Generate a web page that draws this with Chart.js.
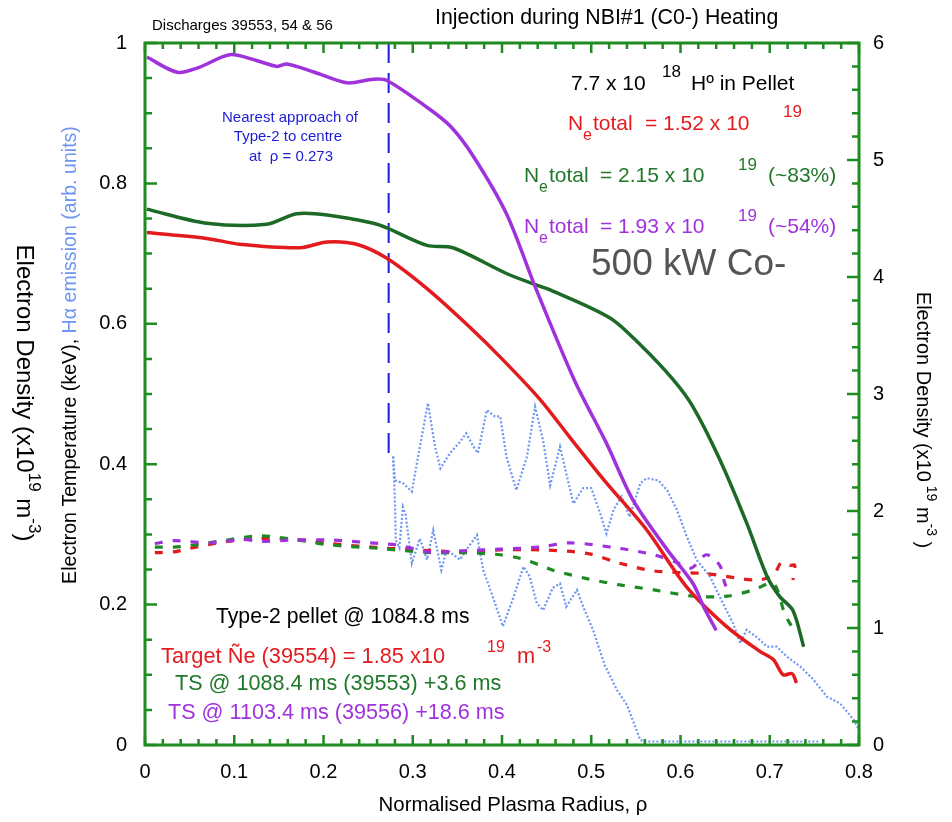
<!DOCTYPE html>
<html>
<head>
<meta charset="utf-8">
<script src="https://cdn.jsdelivr.net/npm/chart.js@4.4.1/dist/chart.umd.min.js"></script>
<style>
  html, body { margin: 0; padding: 0; background: #fff; }
  canvas { display: block; }
</style>
</head>
<body>
<canvas id="chart" width="952" height="822"></canvas>
<script>
// axis ticks
const xTicks  = [0, 0.1, 0.2, 0.3, 0.4, 0.5, 0.6, 0.7, 0.8];
const yTicks  = [0, 0.2, 0.4, 0.6, 0.8, 1];
const y2Ticks = [0, 1, 2, 3, 4, 5, 6];

// electron density, solid lines (right axis, x10^19 m^-3)
const rhoNeTarget = [0.002, 0.069, 0.106, 0.174, 0.204, 0.237, 0.271, 0.316, 0.364, 0.40, 0.443, 0.476, 0.517, 0.562, 0.607, 0.652, 0.689, 0.704, 0.715, 0.725, 0.730];
const neTarget    = [4.38, 4.33, 4.28, 4.25, 4.30, 4.28, 4.16, 3.90, 3.57, 3.30, 2.95, 2.63, 2.24, 1.84, 1.35, 1.01, 0.80, 0.73, 0.60, 0.61, 0.53];
const rhoNe3553   = [0.002, 0.069, 0.136, 0.170, 0.204, 0.256, 0.271, 0.316, 0.345, 0.405, 0.439, 0.454, 0.521, 0.555, 0.592, 0.614, 0.644, 0.674, 0.697, 0.711, 0.726, 0.738];
const ne3553      = [4.58, 4.46, 4.45, 4.54, 4.53, 4.46, 4.42, 4.27, 4.25, 4.03, 3.93, 3.89, 3.65, 3.42, 3.12, 2.89, 2.44, 1.90, 1.44, 1.27, 1.15, 0.84];
const rhoNe3556   = [0.002, 0.036, 0.06, 0.095, 0.125, 0.148, 0.159, 0.19, 0.226, 0.256, 0.271, 0.316, 0.342, 0.368, 0.405, 0.437, 0.481, 0.517, 0.547, 0.585, 0.614, 0.626, 0.640];
const ne3556      = [5.88, 5.75, 5.79, 5.90, 5.85, 5.80, 5.82, 5.75, 5.66, 5.69, 5.68, 5.45, 5.29, 5.03, 4.54, 3.92, 3.12, 2.58, 2.09, 1.67, 1.38, 1.18, 0.98];

// electron temperature, dashed lines (left axis, keV)
const rhoTeTarget = [0.011, 0.032, 0.05, 0.092, 0.129, 0.166, 0.207, 0.263, 0.319, 0.36, 0.398, 0.443, 0.495, 0.532, 0.570, 0.629, 0.685, 0.704, 0.713, 0.723, 0.728, 0.726];
const teTarget    = [0.274, 0.275, 0.280, 0.290, 0.294, 0.293, 0.287, 0.281, 0.277, 0.275, 0.278, 0.278, 0.273, 0.259, 0.248, 0.244, 0.235, 0.242, 0.260, 0.256, 0.256, 0.235];
const rhoTe3553   = [0.011, 0.032, 0.05, 0.092, 0.129, 0.166, 0.207, 0.263, 0.319, 0.36, 0.398, 0.42, 0.443, 0.457, 0.495, 0.532, 0.570, 0.614, 0.652, 0.682, 0.704, 0.717, 0.724];
const te3553      = [0.282, 0.282, 0.284, 0.292, 0.298, 0.293, 0.285, 0.280, 0.274, 0.274, 0.271, 0.266, 0.256, 0.249, 0.237, 0.228, 0.221, 0.212, 0.212, 0.221, 0.230, 0.186, 0.170];
const rhoTe3556   = [0.011, 0.032, 0.073, 0.110, 0.129, 0.166, 0.207, 0.263, 0.282, 0.319, 0.36, 0.398, 0.443, 0.476, 0.532, 0.570, 0.596, 0.612, 0.629, 0.644, 0.649, 0.654];
const te3556      = [0.287, 0.291, 0.288, 0.293, 0.290, 0.292, 0.292, 0.287, 0.285, 0.275, 0.277, 0.279, 0.282, 0.288, 0.280, 0.271, 0.260, 0.252, 0.271, 0.256, 0.233, 0.216];

// H-alpha emission, dotted (left axis, arb. units) - outward and return legs
const rhoHaUpper = [0.278, 0.280, 0.289, 0.299, 0.306, 0.317, 0.325, 0.331, 0.342, 0.353, 0.360, 0.368, 0.373, 0.383, 0.392, 0.398, 0.405, 0.416, 0.428, 0.437, 0.446, 0.454, 0.465, 0.472, 0.480, 0.491, 0.500, 0.510, 0.517, 0.525, 0.534, 0.543, 0.555, 0.562, 0.575, 0.585, 0.596, 0.607, 0.618, 0.633, 0.644, 0.659, 0.667, 0.674, 0.685, 0.697, 0.708, 0.719, 0.734, 0.749, 0.764, 0.779, 0.794, 0.799];
const haUpper    = [0.411, 0.377, 0.373, 0.361, 0.411, 0.487, 0.425, 0.394, 0.416, 0.432, 0.444, 0.425, 0.416, 0.477, 0.468, 0.468, 0.411, 0.363, 0.411, 0.482, 0.434, 0.370, 0.425, 0.387, 0.344, 0.366, 0.366, 0.330, 0.301, 0.335, 0.354, 0.325, 0.373, 0.380, 0.377, 0.363, 0.335, 0.297, 0.264, 0.240, 0.211, 0.173, 0.145, 0.164, 0.154, 0.140, 0.140, 0.126, 0.112, 0.093, 0.069, 0.059, 0.036, 0.024];
const rhoHaLower = [0.278, 0.280, 0.281, 0.285, 0.289, 0.292, 0.299, 0.308, 0.316, 0.323, 0.332, 0.338, 0.353, 0.360, 0.372, 0.379, 0.387, 0.401, 0.413, 0.424, 0.431, 0.439, 0.446, 0.457, 0.465, 0.472, 0.484, 0.491, 0.502, 0.515, 0.529, 0.540, 0.555, 0.560, 0.600, 0.650, 0.700, 0.756];
const haLower    = [0.411, 0.349, 0.292, 0.281, 0.339, 0.328, 0.259, 0.294, 0.264, 0.306, 0.249, 0.278, 0.264, 0.278, 0.299, 0.249, 0.221, 0.169, 0.211, 0.254, 0.240, 0.202, 0.192, 0.224, 0.230, 0.197, 0.221, 0.197, 0.164, 0.114, 0.078, 0.057, 0.007, 0.005, 0.005, 0.005, 0.005, 0.005];

// nearest approach of the pellet
const approachRho = [0.273, 0.273];
const approachY   = [1, 0.405];

const FF = '"Liberation Sans", Arial, sans-serif';
const RED = '#e31b1e';
const GREEN_LINE = '#1c6a26';
const GREEN_DASH = '#1e8a24';
const GREEN_TXT = '#21782a';
const PURPLE = '#a032dc';
const HA = '#6f95f2';
const BLUE = '#1c1cd8';
const AXIS = '#1f8c1f';

const pts = (xs, ys) => xs.map((x, i) => ({ x, y: ys[i] }));

function line(data, color, opts) {
  return Object.assign({ data, borderColor: color, borderWidth: 3.5, pointRadius: 0, tension: 0.3, fill: false }, opts);
}

function txt(ctx, s, x, y, size, color, align) {
  ctx.font = size + "px " + FF;
  ctx.fillStyle = color;
  ctx.textAlign = align || "left";
  ctx.textBaseline = "alphabetic";
  ctx.fillText(s, x, y);
}

// draw text pieces one after another, rotated around their centre
function rotRuns(ctx, cx, cy, angle, runs) {
  ctx.save();
  ctx.translate(cx, cy);
  ctx.rotate(angle);
  ctx.textAlign = "left";
  ctx.textBaseline = "middle";
  let w = 0;
  runs.forEach((r) => { ctx.font = r[1] + "px " + FF; w += ctx.measureText(r[0]).width; });
  let x = -w / 2;
  runs.forEach((r) => {
    ctx.font = r[1] + "px " + FF;
    ctx.fillStyle = r[3];
    ctx.fillText(r[0], x, r[2]);
    x += ctx.measureText(r[0]).width;
  });
  ctx.restore();
}

const framePlugin = {
  id: "frame",
  afterDatasetsDraw(chart) {
    const { ctx, chartArea: a, scales } = chart;
    ctx.save();
    ctx.strokeStyle = AXIS;
    ctx.lineWidth = 2.5;
    ctx.beginPath();
    // x ticks, top and bottom
    for (let i = 0; i <= 40; i++) {
      const px = scales.x.getPixelForValue(i * 0.02);
      const len = i % 5 === 0 ? 10 : 6;
      ctx.moveTo(px, a.bottom); ctx.lineTo(px, a.bottom - len);
      ctx.moveTo(px, a.top); ctx.lineTo(px, a.top + len);
    }
    // left ticks
    for (let i = 0; i <= 20; i++) {
      const py = scales.y.getPixelForValue(i * 0.05);
      const len = i % 4 === 0 ? 12 : 7;
      ctx.moveTo(a.left, py); ctx.lineTo(a.left + len, py);
    }
    // right ticks
    for (let i = 0; i <= 30; i++) {
      const py = scales.y2.getPixelForValue(i * 0.2);
      const len = i % 5 === 0 ? 12 : 7;
      ctx.moveTo(a.right, py); ctx.lineTo(a.right - len, py);
    }
    ctx.stroke();
    ctx.lineWidth = 3;
    ctx.strokeRect(a.left, a.top, a.right - a.left, a.bottom - a.top);
    ctx.restore();
  },
  afterDraw(chart) {
    const ctx = chart.ctx;
    ctx.save();
    txt(ctx, "Discharges 39553, 54 & 56", 152, 30, 15, "#000");
    txt(ctx, "Injection during NBI#1 (C0-) Heating", 435, 24, 21.3, "#000");

    txt(ctx, "7.7 x 10", 571, 90, 21, "#000");
    txt(ctx, "18", 662, 77, 17, "#000");
    txt(ctx, "H\u00ba in Pellet", 691, 90, 21, "#000");

    txt(ctx, "N", 568, 130, 21, RED);
    txt(ctx, "e", 583, 140, 16, RED);
    txt(ctx, "total", 593, 130, 21, RED);
    txt(ctx, "= 1.52 x 10", 645, 130, 21, RED);
    txt(ctx, "19", 783, 117, 17, RED);

    txt(ctx, "N", 524, 182, 21, GREEN_TXT);
    txt(ctx, "e", 539, 192, 16, GREEN_TXT);
    txt(ctx, "total", 549, 182, 21, GREEN_TXT);
    txt(ctx, "= 2.15 x 10", 600, 182, 21, GREEN_TXT);
    txt(ctx, "19", 738, 170, 17, GREEN_TXT);
    txt(ctx, "(~83%)", 768, 182, 21, GREEN_TXT);

    txt(ctx, "N", 524, 233, 21, PURPLE);
    txt(ctx, "e", 539, 243, 16, PURPLE);
    txt(ctx, "total", 549, 233, 21, PURPLE);
    txt(ctx, "= 1.93 x 10", 600, 233, 21, PURPLE);
    txt(ctx, "19", 738, 221, 17, PURPLE);
    txt(ctx, "(~54%)", 768, 233, 21, PURPLE);

    txt(ctx, "500 kW Co-", 591, 275, 37, "#555");

    txt(ctx, "Nearest approach of", 290, 122, 15, BLUE, "center");
    txt(ctx, "Type-2 to centre", 288, 141, 15, BLUE, "center");
    txt(ctx, "at  \u03c1 = 0.273", 291, 161, 15, BLUE, "center");

    txt(ctx, "Type-2 pellet @ 1084.8 ms", 216, 623, 21.2, "#000");
    txt(ctx, "Target \u00d1e (39554) = 1.85 x10", 161, 663, 21.8, RED);
    txt(ctx, "19", 487, 652, 16, RED);
    txt(ctx, "m", 517, 663, 21.8, RED);
    txt(ctx, "-3", 537, 652, 16, RED);
    txt(ctx, "TS @ 1088.4 ms (39553) +3.6 ms", 175, 690, 21.6, GREEN_TXT);
    txt(ctx, "TS @ 1103.4 ms (39556) +18.6 ms", 168, 719, 21.6, PURPLE);

    txt(ctx, "Normalised Plasma Radius, \u03c1", 513, 811, 20.4, "#000", "center");

    rotRuns(ctx, 24, 393, Math.PI / 2, [
      ["Electron Density (x10", 24, 0, "#000"], ["19", 17, -10, "#000"],
      [" m", 24, 0, "#000"], ["-3", 17, -10, "#000"], [")", 24, 0, "#000"],
    ]);
    rotRuns(ctx, 71, 355, -Math.PI / 2, [
      ["Electron Temperature (keV), ", 19.6, 0, "#000"], ["H\u03b1 emission (arb. units)", 19.6, 0, HA],
    ]);
    rotRuns(ctx, 923, 420, Math.PI / 2, [
      ["Electron Density (x10", 20, 0, "#000"], [" 19", 14, -8, "#000"],
      [" m", 20, 0, "#000"], ["-3", 14, -8, "#000"], [" )", 20, 0, "#000"],
    ]);
    ctx.restore();
  },
};

const tickFont = { family: FF, size: 20 };
const fmt = (v) => String(Math.round(v * 10) / 10);

new Chart(document.getElementById("chart"), {
  type: "line",
  data: {
    datasets: [
      line(pts(rhoNe3556, ne3556), PURPLE, { yAxisID: "y2" }),
      line(pts(rhoNe3553, ne3553), GREEN_LINE, { yAxisID: "y2" }),
      line(pts(rhoNeTarget, neTarget), RED, { yAxisID: "y2" }),
      line(pts(rhoTe3556, te3556), PURPLE, { yAxisID: "y", borderDash: [8, 10], borderWidth: 3.2 }),
      line(pts(rhoTe3553, te3553), GREEN_DASH, { yAxisID: "y", borderDash: [8, 10], borderWidth: 3.2 }),
      line(pts(rhoTeTarget, teTarget), RED, { yAxisID: "y", borderDash: [8, 10], borderWidth: 3.2 }),
      line(pts(approachRho, approachY), BLUE, { yAxisID: "y", borderDash: [20, 10], borderWidth: 2, tension: 0 }),
      line(pts(rhoHaUpper, haUpper), HA, { yAxisID: "y", borderDash: [2, 2], borderWidth: 2.2, tension: 0 }),
      line(pts(rhoHaLower, haLower), HA, { yAxisID: "y", borderDash: [2, 2], borderWidth: 2.2, tension: 0 }),
    ],
  },
  options: {
    responsive: false,
    animation: false,
    devicePixelRatio: 1,
    events: [],
    layout: { padding: { top: 43, left: 0, right: 0, bottom: 0 } },
    plugins: { legend: { display: false }, tooltip: { enabled: false } },
    scales: {
      x: {
        type: "linear", min: 0, max: 0.8,
        grid: { display: false, drawTicks: false }, border: { display: false },
        afterBuildTicks: (s) => { s.ticks = xTicks.map((v) => ({ value: v })); },
        afterFit: (s) => { s.height = 77; },
        ticks: { font: tickFont, color: "#000", padding: 15, maxRotation: 0, callback: fmt },
      },
      y: {
        type: "linear", position: "left", min: 0, max: 1,
        grid: { display: false, drawTicks: false }, border: { display: false },
        afterBuildTicks: (s) => { s.ticks = yTicks.map((v) => ({ value: v })); },
        afterFit: (s) => { s.width = 145; },
        ticks: { font: tickFont, color: "#000", padding: 18, callback: fmt },
      },
      y2: {
        type: "linear", position: "right", min: 0, max: 6,
        grid: { display: false, drawTicks: false }, border: { display: false },
        afterBuildTicks: (s) => { s.ticks = y2Ticks.map((v) => ({ value: v })); },
        afterFit: (s) => { s.width = 93; },
        ticks: { font: tickFont, color: "#000", padding: 14, callback: fmt },
      },
    },
  },
  plugins: [framePlugin],
});
</script>
</body>
</html>
